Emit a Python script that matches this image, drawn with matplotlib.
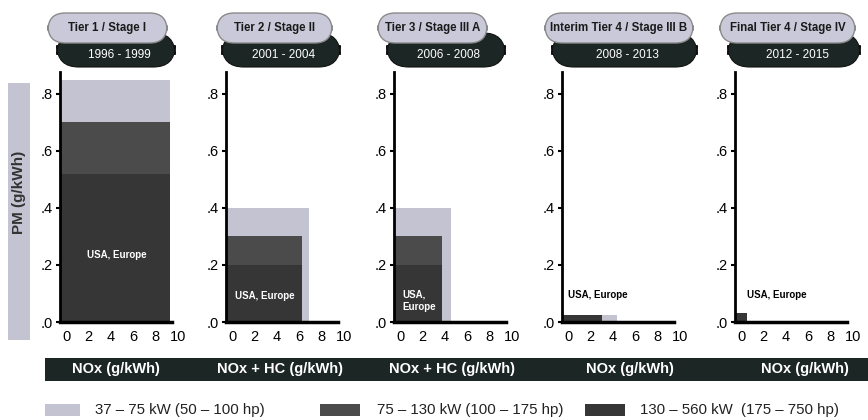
import matplotlib
matplotlib.use("Agg")
import matplotlib.pyplot as plt
from matplotlib.patches import FancyBboxPatch, Rectangle
from matplotlib.transforms import ScaledTranslation

plt.rcParams['font.family'] = ['Liberation Sans', 'DejaVu Sans']

# ---------------- data ----------------
stages = ["Tier 1 / Stage I", "Tier 2 / Stage II", "Tier 3 / Stage III A",
          "Interim Tier 4 / Stage III B", "Final Tier 4 / Stage IV"]
years = ["1996 - 1999", "2001 - 2004", "2006 - 2008", "2008 - 2013", "2012 - 2015"]
xlabels = ["NOx (g/kWh)", "NOx + HC (g/kWh)", "NOx + HC (g/kWh)", "NOx (g/kWh)", "NOx (g/kWh)"]
classes = ["37 – 75 kW (50 – 100 hp)", "75 – 130 kW (100 – 175 hp)", "130 – 560 kW  (175 – 750 hp)"]

# NOx (or NOx+HC) limits per panel for each class
nox_small = [9.3, 6.9, 4.6, 4.4, 0.5]
nox_mid   = [9.3, 6.3, 3.8, 3.0, 0.5]
nox_large = [9.3, 6.3, 3.8, 3.0, 0.5]
# PM limits per panel for each class
pm_small = [0.85, 0.40, 0.40, 0.025, 0.03]
pm_mid   = [0.70, 0.30, 0.30, 0.025, 0.03]
pm_large = [0.52, 0.20, 0.20, 0.025, 0.03]

yticks = [0, 0.2, 0.4, 0.6, 0.8]
ytick_labels = [".0", ".2", ".4", ".6", ".8"]
xticks = [0, 2, 4, 6, 8, 10]

# ---------------- styles / layout ----------------
W, H = 868, 420
C_LIGHT = "#c3c3d2"
C_MID = "#4b4b4b"
C_DARK = "#363636"
C_BADGE = "#c9c9da"
C_BADGE_DARK = "#1c2624"

panel_left = [60, 226, 394, 562, 735]
XMIN, XMAX = -0.54, 10.2
AX_W = 120
AX_BOTTOM, AX_TOP = 322, 72
YMAX = 0.877

note_pos = [(4.55, 0.235, "center", "white"), (2.95, 0.09, "center", "white"),
            (0.25, 0.075, "left", "white"), (2.7, 0.095, "center", "black"),
            (3.2, 0.095, "center", "black")]
note_text = ["USA, Europe", "USA, Europe", "USA,\nEurope", "USA, Europe", "USA, Europe"]

badge_light = [(48, 13, 167, 43), (217, 13, 332, 43), (378, 13, 487, 43),
               (545, 13, 693, 43), (720, 13, 855, 43)]
badge_dark = [(57, 33, 175, 67), (222, 33, 340, 67), (387, 33, 505, 67),
              (552, 33, 697, 67), (728, 33, 860, 67)]
xlabel_cx = [116, 280, 452, 630, 805]


def fx(x):
    return x / W


def fy(y):
    return 1 - y / H


fig = plt.figure(figsize=(W / 100, H / 100), dpi=100)

for i in range(5):
    ax = fig.add_axes([fx(panel_left[i]), fy(AX_BOTTOM), AX_W / W, (AX_BOTTOM - AX_TOP) / H])
    for nox, pm, col in ((nox_small, pm_small, C_LIGHT),
                         (nox_mid, pm_mid, C_MID),
                         (nox_large, pm_large, C_DARK)):
        ax.bar(XMIN, pm[i], width=nox[i] - XMIN, align="edge", color=col, linewidth=0, zorder=2)
    ax.set_xlim(XMIN, XMAX)
    ax.set_ylim(0, YMAX)
    for s in ("top", "right"):
        ax.spines[s].set_visible(False)
    ax.spines["left"].set_linewidth(2)
    ax.spines["bottom"].set_linewidth(2.5)
    ax.spines["bottom"].set_bounds(XMIN, 9.45)
    ax.spines["left"].set_zorder(3)
    ax.spines["bottom"].set_zorder(3)
    ax.set_yticks(yticks)
    ax.set_yticklabels(ytick_labels, fontsize=10.5)
    ax.set_xticks(xticks)
    ax.set_xticklabels([str(t) for t in xticks], fontsize=10.5)
    ax.tick_params(axis="y", length=3, width=1.5, pad=2)
    ax.tick_params(axis="x", length=0, pad=6)
    off = ScaledTranslation(0, 0, fig.dpi_scale_trans)
    for lab in ax.get_xticklabels():
        lab.set_transform(lab.get_transform() + off)
    ax.patch.set_alpha(0)
    nx, ny, ha, col = note_pos[i]
    ax.text(nx, ny, note_text[i], ha=ha, va="center", color=col, fontsize=7,
            fontweight="bold", zorder=4, linespacing=1.3)

# badges
for i in range(5):
    x0, y0, x1, y1 = badge_dark[i]
    fig.patches.append(FancyBboxPatch((fx(x0), fy(y1)), fx(x1) - fx(x0), fy(y0) - fy(y1),
                                      boxstyle="round,pad=0,rounding_size=0.025",
                                      transform=fig.transFigure, facecolor=C_BADGE_DARK,
                                      edgecolor="#111111", linewidth=0.8, mutation_aspect=2.07))
    x0l, y0l, x1l, y1l = badge_light[i]
    fig.patches.append(FancyBboxPatch((fx(x0l), fy(y1l)), fx(x1l) - fx(x0l), fy(y0l) - fy(y1l),
                                      boxstyle="round,pad=0,rounding_size=0.02",
                                      transform=fig.transFigure, facecolor=C_BADGE,
                                      edgecolor="#8a8a8a", linewidth=1.0, mutation_aspect=2.07))
    fig.text(fx((x0l + x1l) / 2), fy((y0l + y1l) / 2), stages[i], ha="center", va="center",
             fontsize=8.3, fontweight="bold", color="#1a1a1a")
    fig.text(fx((x0 + x1) / 2 + 3), fy((y1l + y1) / 2), years[i], ha="center", va="center",
             fontsize=8.5, color="white")

# left PM bar
fig.patches.append(Rectangle((fx(8), fy(340)), fx(30) - fx(8), fy(83) - fy(340),
                             transform=fig.transFigure, facecolor=C_LIGHT, edgecolor="none"))
fig.text(fx(19), fy(192), "PM (g/kWh)", rotation=90, ha="center", va="center",
         fontsize=11, fontweight="bold", color="#333333")

# bottom band
fig.patches.append(Rectangle((fx(45), fy(381)), fx(868) - fx(45), fy(358) - fy(381),
                             transform=fig.transFigure, facecolor=C_BADGE_DARK, edgecolor="none"))
for i in range(5):
    fig.text(fx(xlabel_cx[i]), fy(369.5), xlabels[i], ha="center", va="center",
             fontsize=10.5, fontweight="bold", color="white")

# legend
sw_x = [(45, 80), (320, 360), (585, 625)]
txt_x = [95, 377, 640]
for (a, b), t, lab, col in zip(sw_x, txt_x, classes, (C_LIGHT, C_MID, C_DARK)):
    fig.patches.append(Rectangle((fx(a), fy(416)), fx(b) - fx(a), fy(404) - fy(416),
                                 transform=fig.transFigure, facecolor=col, edgecolor="none"))
    fig.text(fx(t), fy(410), lab, ha="left", va="center", fontsize=10.8, color="#222222")

fig.savefig("out.png", dpi=100)
